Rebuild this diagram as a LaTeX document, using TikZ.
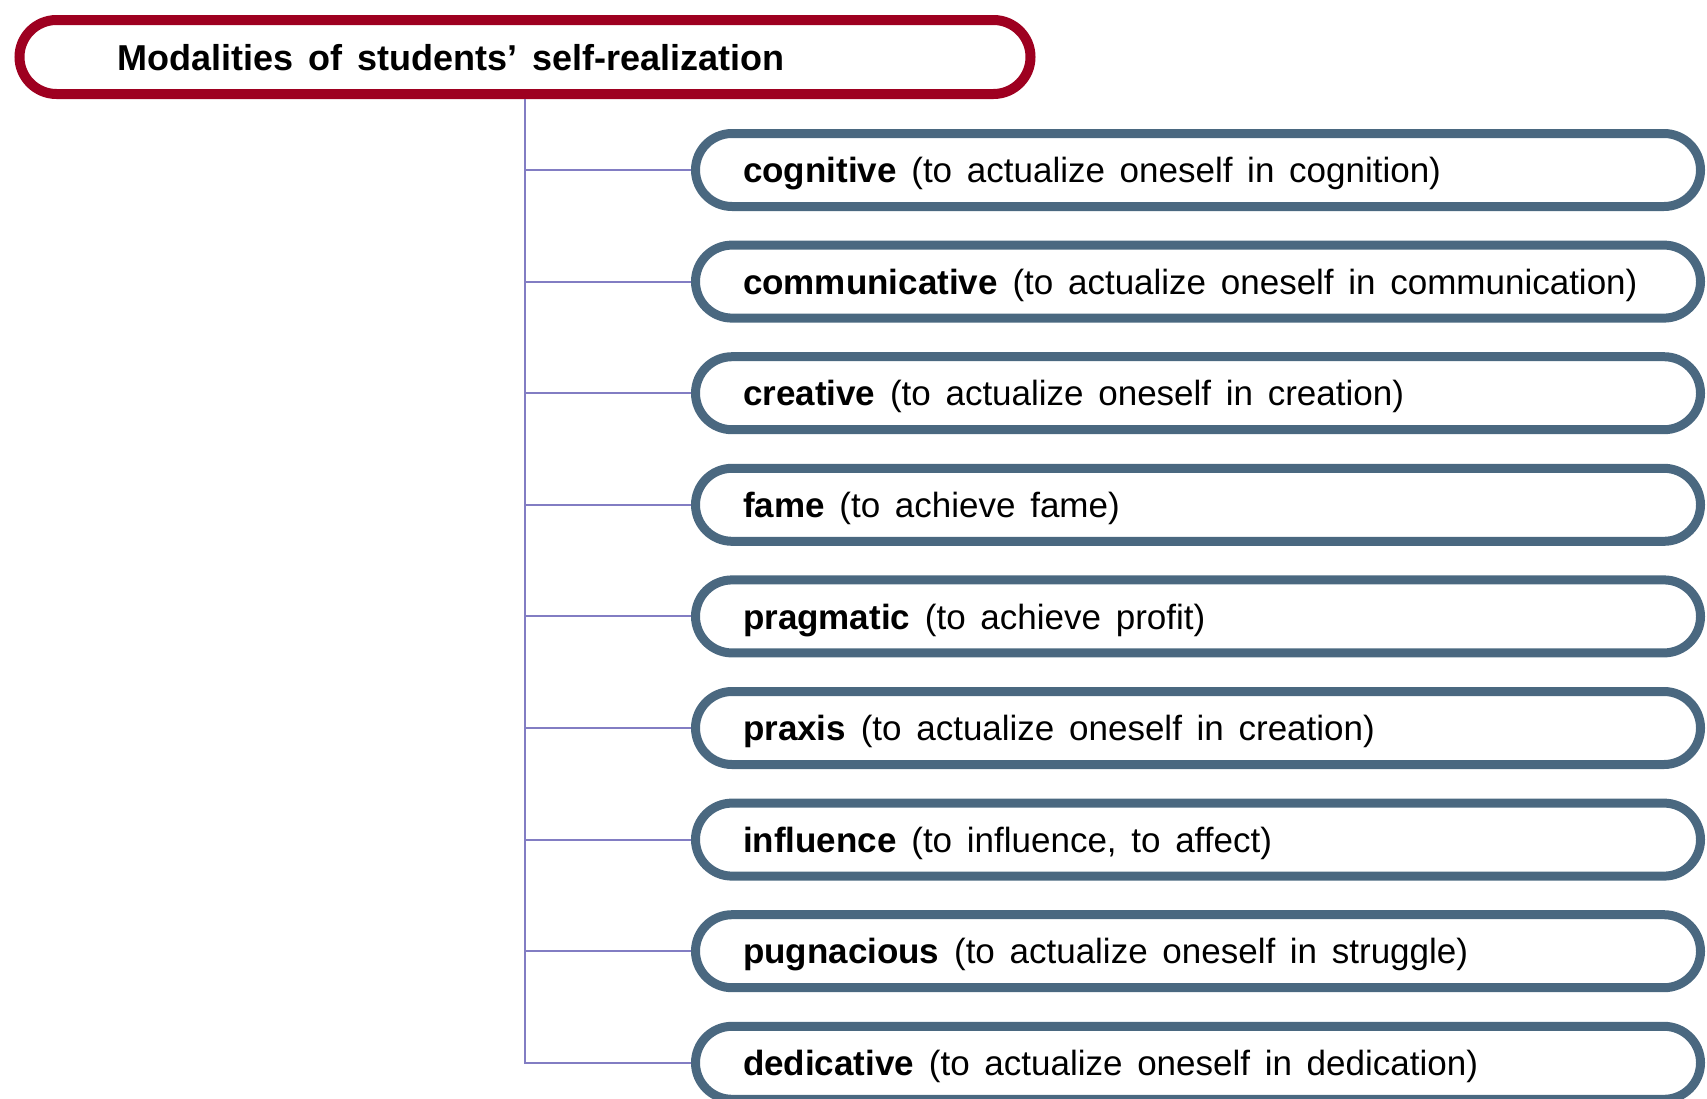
\documentclass[tikz,border=0pt]{standalone}
\usepackage{fontspec}
\setmainfont{Liberation Sans}
\definecolor{titlered}{RGB}{158,0,32}
\definecolor{modblue}{RGB}{74,104,128}
\definecolor{branchviolet}{RGB}{130,125,195}
\newcommand\modspacing{\spaceskip=0.42em plus 0.1em minus 0.05em\relax}
\tikzset{
	modtitle/.style={draw=titlered, line width=5pt, rounded corners=18.5pt, minimum height=37pt,
		text width=407.5pt, inner xsep=49pt, align=left, text depth=0pt, outer sep=2.5pt,
		font=\fontsize{18}{22}\selectfont\bfseries, execute at begin node=\modspacing},
	modbox/.style={draw=modblue, line width=4.5pt, rounded corners=18.25pt, minimum height=36.5pt,
		text width=455pt, inner xsep=23.75pt, align=left, text depth=0pt, outer sep=2.25pt,
		font=\fontsize{17.5}{21}\selectfont, execute at begin node=\modspacing},
	branch/.style={draw=branchviolet, line width=1pt}
}
\begin{document}
\begin{tikzpicture}[x=0.5pt, y=-0.5pt]
		\useasboundingbox (0,0) rectangle (1707,1098);
		% titolo
		\node[modtitle] (title) at (525,57) {Modalities of students’ self-realization};
		
		% modalita
		\node[modbox] (cogn) at (1198,170) {\textbf{cognitive} (to actualize oneself in cognition)};
		\node[modbox] (comm) at (1198,281.6) {\textbf{communicative} (to actualize oneself in communication)};
		\node[modbox] (creat) at (1198,393.2) {\textbf{creative} (to actualize oneself in creation)};
		\node[modbox] (fame) at (1198,504.8) {\textbf{fame} (to achieve fame)};
		\node[modbox] (pragm) at (1198,616.4) {\textbf{pragmatic} (to achieve profit)};
		\node[modbox] (praxis) at (1198,728) {\textbf{praxis} (to actualize oneself in creation)};
		\node[modbox] (infl) at (1198,839.6) {\textbf{influence} (to influence, to affect)};
		\node[modbox] (pugn) at (1198,951.2) {\textbf{pugnacious} (to actualize oneself in struggle)};
		\node[modbox] (dedic) at (1198,1062.8) {\textbf{dedicative} (to actualize oneself in dedication)};
		
		% collegamenti
		\draw[branch] (title.south) |- (cogn.west);
		\draw[branch] (title.south) |- (comm.west);
		\draw[branch] (title.south) |- (creat.west);
		\draw[branch] (title.south) |- (fame.west);
		\draw[branch] (title.south) |- (pragm.west);
		\draw[branch] (title.south) |- (praxis.west);
		\draw[branch] (title.south) |- (infl.west);
		\draw[branch] (title.south) |- (pugn.west);
		\draw[branch] (title.south) |- (dedic.west);
	\end{tikzpicture}
\end{document}
